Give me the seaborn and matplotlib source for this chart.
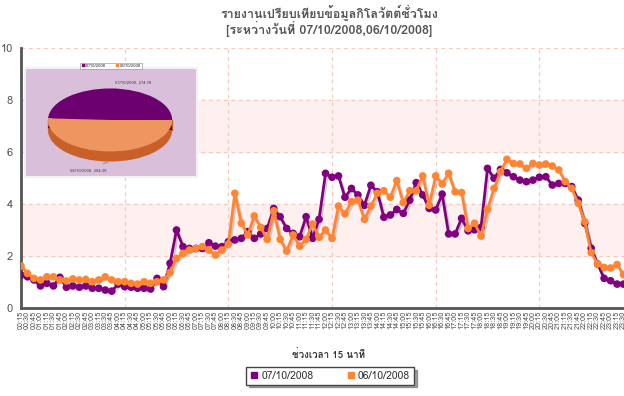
import matplotlib
matplotlib.use("Agg")
import pandas as pd
import seaborn as sns
from matplotlib import pyplot as plt
from matplotlib import font_manager, patheffects
from matplotlib.ft2font import FT2Font
from matplotlib.lines import Line2D
from matplotlib.patches import Rectangle


# --- data ---
title_line1 = "รายงานเปรียบเทียบข้อมูลกิโลวัตต์ชั่วโมง"
title_line2 = "[ระหว่างวันที่ 07/10/2008,06/10/2008]"
x_title = "ช่วงเวลา 15 นาที"

series_names = ["07/10/2008", "06/10/2008"]
series_colors = ["#800080", "#ff8533"]

# 15 minute slots, 00:15 .. 24:00
time_labels = [f"{m // 60:02d}:{m % 60:02d}" for m in range(15, 1441, 15)]

kwh_0710 = [
    1.27, 1.20, 1.08, 0.85, 0.95, 0.85, 1.18, 0.80, 0.85, 0.80, 0.85, 0.76,
    0.76, 0.69, 0.65, 0.92, 0.82, 0.80, 0.76, 0.76, 0.73, 1.14, 0.82, 1.72,
    3.00, 2.36, 2.29, 2.29, 2.29, 2.51, 2.38, 2.36, 2.55, 2.62, 2.68, 2.94,
    2.68, 2.85, 3.06, 3.83, 3.51, 3.06, 2.87, 2.74, 3.51, 2.68, 3.41, 5.18,
    5.03, 5.08, 4.26, 4.60, 4.35, 3.95, 4.72, 4.47, 3.49, 3.58, 3.79, 3.64,
    4.15, 4.82, 4.35, 3.83, 3.77, 4.38, 2.85, 2.85, 3.45, 2.97, 3.01, 3.10,
    5.37, 4.99, 5.33, 5.20, 5.05, 4.92, 4.86, 4.92, 5.03, 5.05, 4.73, 4.79,
    4.79, 4.67, 4.15, 3.26, 2.30, 1.69, 1.14, 1.05, 0.92, 0.92, 0.95, 0.95,
]
kwh_0610 = [
    1.62, 1.33, 1.14, 1.08, 1.20, 1.20, 1.08, 1.04, 1.12, 1.08, 1.10, 1.01,
    1.08, 1.20, 1.08, 1.01, 1.01, 0.95, 0.92, 1.01, 0.95, 1.01, 1.08, 1.36,
    1.91, 2.10, 2.23, 2.29, 2.36, 2.23, 2.04, 2.23, 2.46, 4.41, 3.26, 2.81,
    3.54, 3.10, 2.64, 3.74, 2.64, 2.19, 2.81, 2.38, 2.64, 3.23, 2.72, 3.00,
    2.68, 3.92, 3.62, 4.09, 4.15, 3.41, 3.92, 4.41, 4.51, 4.26, 4.90, 4.05,
    4.51, 4.51, 5.08, 3.95, 5.08, 4.77, 5.18, 4.47, 4.44, 3.06, 3.26, 2.77,
    3.79, 4.60, 5.24, 5.72, 5.56, 5.54, 5.37, 5.56, 5.50, 5.54, 5.46, 5.31,
    4.86, 4.60, 4.03, 3.32, 2.13, 1.69, 1.56, 1.54, 1.67, 1.28, 1.20, 1.15,
]

pie_values = [274.78, 284.06]


def find_thai_family():
    """Return the first installed font family that has Thai glyphs."""
    seen = set()
    for f in font_manager.fontManager.ttflist:
        if f.fname in seen:
            continue
        seen.add(f.fname)
        try:
            if 0x0E23 in FT2Font(f.fname).get_charmap():
                return f.name
        except Exception:
            pass
    return None


sns.set_style("white")
thai = find_thai_family()
plt.rcParams["font.family"] = ([thai] if thai else []) + ["DejaVu Sans"]

fig = plt.figure(figsize=(6.24, 3.96), dpi=100)
fig.patch.set_facecolor("white")

# --- main line chart ---
ax = fig.add_axes([21 / 624, 88 / 396, 622 / 624, 260 / 396])
ax.set_facecolor("white")

slots = list(range(len(time_labels)))
df = pd.DataFrame({
    "slot": slots * 2,
    "kwh": kwh_0710 + kwh_0610,
    "date": [series_names[0]] * len(slots) + [series_names[1]] * len(slots),
})

for lo, hi in [(2, 4), (6, 8)]:
    ax.axhspan(lo, hi, color="#fdf0ee", zorder=0)
grid_kw = dict(color="#f6c9c0", linewidth=0.9, linestyle=(0, (3, 3)), zorder=0.5)
for yv in (2, 4, 6, 8, 10):
    ax.axhline(yv, **grid_kw)
for xv in range(16, 96, 16):
    ax.axvline(xv, **grid_kw)

sns.lineplot(
    data=df, x="slot", y="kwh", hue="date", hue_order=series_names,
    palette=dict(zip(series_names, series_colors)), marker="o",
    markersize=5.5, markeredgewidth=0, linewidth=2, legend=False, ax=ax,
)
shadow = [patheffects.SimpleLineShadow(offset=(1.2, -1.5), alpha=0.18), patheffects.Normal()]
for line in ax.lines:
    if line.get_marker() == "o":
        line.set_path_effects(shadow)
        line.set_zorder(3)

ax.set_xlim(0, 96)
ax.set_ylim(0, 10)
ax.set_xticks(slots)
ax.set_xticklabels(time_labels, rotation=90, fontsize=5.3, color="#555555")
ax.set_yticks(range(0, 11, 2))
ax.set_yticklabels([str(v) for v in range(0, 11, 2)], fontsize=8, color="#555555")
ax.tick_params(axis="both", length=0)
ax.tick_params(axis="x", pad=2)
ax.tick_params(axis="y", pad=6)
ax.set_xlabel("")
ax.set_ylabel("")
for side in ("top", "right"):
    ax.spines[side].set_visible(False)
for side in ("left", "bottom"):
    ax.spines[side].set_color("#555555")
    ax.spines[side].set_linewidth(2)

fig.text(329 / 624, 1 - 13 / 396, title_line1, ha="center", va="center",
         fontsize=9, fontweight="bold", color="#555555")
fig.text(329 / 624, 1 - 29 / 396, title_line2, ha="center", va="center",
         fontsize=9, fontweight="bold", color="#555555")
fig.text(328 / 624, 1 - 355 / 396, x_title, ha="center", va="center",
         fontsize=7, fontweight="bold", color="#333333")

handles = [Line2D([], [], marker="s", linestyle="", color=c, markersize=4) for c in series_colors]
leg = fig.legend(handles, series_names, loc="center", bbox_to_anchor=(330 / 624, 1 - 376 / 396),
                 ncol=2, fontsize=7.5, frameon=True, fancybox=False, shadow=True,
                 handletextpad=0.3, columnspacing=3.2, borderpad=0.35, handlelength=0.8)
leg.get_frame().set_edgecolor("#444444")
leg.get_frame().set_linewidth(1)
for t in leg.get_texts():
    t.set_color("#333333")

# --- pie picture in the corner ---
pax = fig.add_axes([25 / 624, 1 - 177 / 396, 172 / 624, 109 / 396])

# side of the 3d disc
pax.add_patch(Rectangle((-1, -0.32), 2, 0.32, color="#c8602a", zorder=1))
pax.pie(pie_values, colors=["#5e0060", "#c8602a"], startangle=0, counterclock=True,
        center=(0, -0.32), wedgeprops=dict(linewidth=0), frame=True)
pax.pie(pie_values, colors=["#6c006e", "#ee9560"], startangle=0, counterclock=True,
        wedgeprops=dict(linewidth=0), frame=True)
pax.set_facecolor("#d9bfd9")
for s in pax.spines.values():
    s.set_color("#f2f2f2")
    s.set_linewidth(1.5)
pax.set_xticks([])
pax.set_yticks([])
pax.set_aspect("auto")
pax.set_xlim(-1.37, 1.40)
pax.set_ylim(-1.81, 1.65)

pie_texts = [f"{n}, {v:.2f}" for n, v in zip(series_names, pie_values)]
pax.annotate(pie_texts[0], xy=(0.05, 1.0), xytext=(0.08, 1.2), fontsize=3, color="#444444",
             ha="left", va="center", arrowprops=dict(arrowstyle="-", color="#666666", lw=0.4))
pax.annotate(pie_texts[1], xy=(0.0, -1.3), xytext=(-0.05, -1.6), fontsize=3, color="#444444",
             ha="right", va="center", arrowprops=dict(arrowstyle="-", color="#666666", lw=0.4))

pleg = pax.legend([Line2D([], [], marker="s", linestyle="", color=c, markersize=1.5) for c in series_colors],
                  series_names, loc="center", bbox_to_anchor=(0.5, 1.02), ncol=2, fontsize=3,
                  frameon=True, fancybox=False, handletextpad=0.2, columnspacing=2.5,
                  borderpad=0.3, handlelength=0.6)
pleg.get_frame().set_edgecolor("#888888")
pleg.get_frame().set_linewidth(0.5)

fig.savefig("out.png", dpi=100)
